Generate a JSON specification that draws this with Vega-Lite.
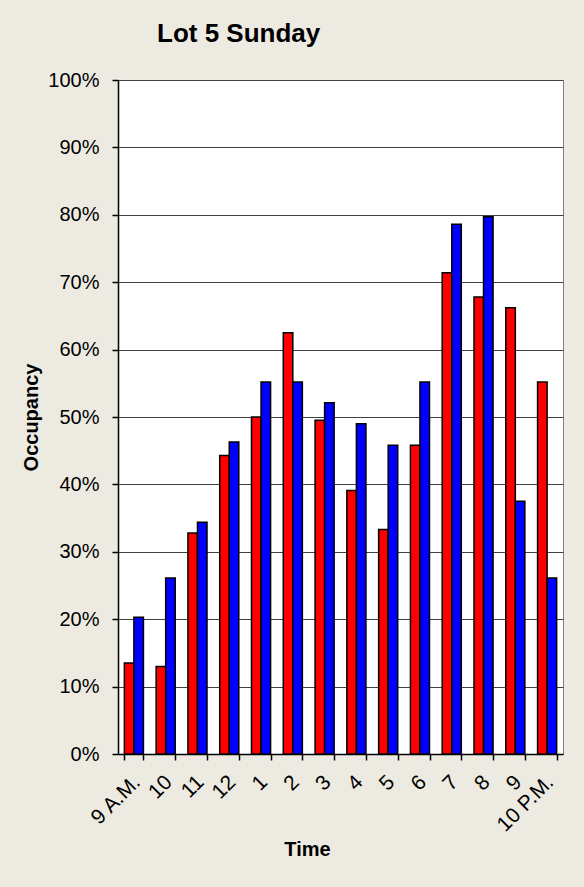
{
  "$schema": "https://vega.github.io/schema/vega-lite/v6.json",
  "autosize": {"type": "none"},
  "width": 445,
  "height": 674,
  "padding": {"left": 118, "top": 80, "right": 21, "bottom": 133},
  "background": "#EDEBE1",
  "title": {
    "text": "Lot 5 Sunday",
    "font": "Liberation Sans",
    "fontSize": 26,
    "fontWeight": "bold",
    "color": "#000000",
    "anchor": "start",
    "frame": "group",
    "dx": 39,
    "offset": 23
  },
  "data": {
    "values": [
      {"time": "9 A.M.", "series": "A", "value": 0.135},
      {"time": "9 A.M.", "series": "B", "value": 0.203},
      {"time": "10", "series": "A", "value": 0.130},
      {"time": "10", "series": "B", "value": 0.261},
      {"time": "11", "series": "A", "value": 0.328},
      {"time": "11", "series": "B", "value": 0.344},
      {"time": "12", "series": "A", "value": 0.443},
      {"time": "12", "series": "B", "value": 0.463},
      {"time": "1", "series": "A", "value": 0.500},
      {"time": "1", "series": "B", "value": 0.552},
      {"time": "2", "series": "A", "value": 0.625},
      {"time": "2", "series": "B", "value": 0.552},
      {"time": "3", "series": "A", "value": 0.495},
      {"time": "3", "series": "B", "value": 0.521},
      {"time": "4", "series": "A", "value": 0.391},
      {"time": "4", "series": "B", "value": 0.490},
      {"time": "5", "series": "A", "value": 0.333},
      {"time": "5", "series": "B", "value": 0.458},
      {"time": "6", "series": "A", "value": 0.458},
      {"time": "6", "series": "B", "value": 0.552},
      {"time": "7", "series": "A", "value": 0.714},
      {"time": "7", "series": "B", "value": 0.786},
      {"time": "8", "series": "A", "value": 0.678},
      {"time": "8", "series": "B", "value": 0.797},
      {"time": "9", "series": "A", "value": 0.662},
      {"time": "9", "series": "B", "value": 0.375},
      {"time": "10 P.M.", "series": "A", "value": 0.552},
      {"time": "10 P.M.", "series": "B", "value": 0.261}
    ]
  },
  "mark": {"type": "bar", "stroke": "#000000", "strokeWidth": 1.5},
  "encoding": {
    "x": {
      "field": "time",
      "type": "nominal",
      "sort": ["9 A.M.", "10", "11", "12", "1", "2", "3", "4", "5", "6", "7", "8", "9", "10 P.M."],
      "scale": {"paddingInner": 0.4, "paddingOuter": 0.2},
      "axis": {
        "title": "Time",
        "titleFont": "Liberation Sans",
        "titleFontSize": 20,
        "titleFontWeight": "bold",
        "titleColor": "#000000",
        "titleX": 189,
        "titleY": 95,
        "titleBaseline": "middle",
        "labelFont": "Liberation Sans",
        "labelFontSize": 21,
        "labelColor": "#000000",
        "labelAngle": -45,
        "labelPadding": 11,
        "labelOffset": -5,
        "labelOverlap": false,
        "domainColor": "#000000",
        "domainWidth": 1.5,
        "tickColor": "#000000",
        "tickWidth": 1.5,
        "tickSize": 6,
        "tickBand": "extent",
        "grid": false
      }
    },
    "xOffset": {"field": "series", "type": "nominal", "sort": ["A", "B"]},
    "y": {
      "field": "value",
      "type": "quantitative",
      "scale": {"domain": [0, 1], "nice": false},
      "axis": {
        "title": "Occupancy",
        "titleFont": "Liberation Sans",
        "titleFontSize": 20,
        "titleFontWeight": "bold",
        "titleColor": "#000000",
        "titlePadding": 6,
        "values": [0, 0.1, 0.2, 0.3, 0.4, 0.5, 0.6, 0.7, 0.8, 0.9, 1],
        "format": ".0%",
        "labelFont": "Liberation Sans",
        "labelFontSize": 20,
        "labelColor": "#000000",
        "labelPadding": 13,
        "domainColor": "#000000",
        "domainWidth": 1.5,
        "tickColor": "#000000",
        "tickWidth": 1.5,
        "tickSize": 6,
        "grid": true,
        "gridColor": "#404040",
        "gridWidth": 1
      }
    },
    "color": {
      "field": "series",
      "type": "nominal",
      "scale": {"domain": ["A", "B"], "range": ["#FF0000", "#0000FF"]},
      "legend": null
    }
  },
  "config": {
    "view": {"stroke": "#808080", "strokeWidth": 1, "fill": "#FFFFFF"}
  }
}
